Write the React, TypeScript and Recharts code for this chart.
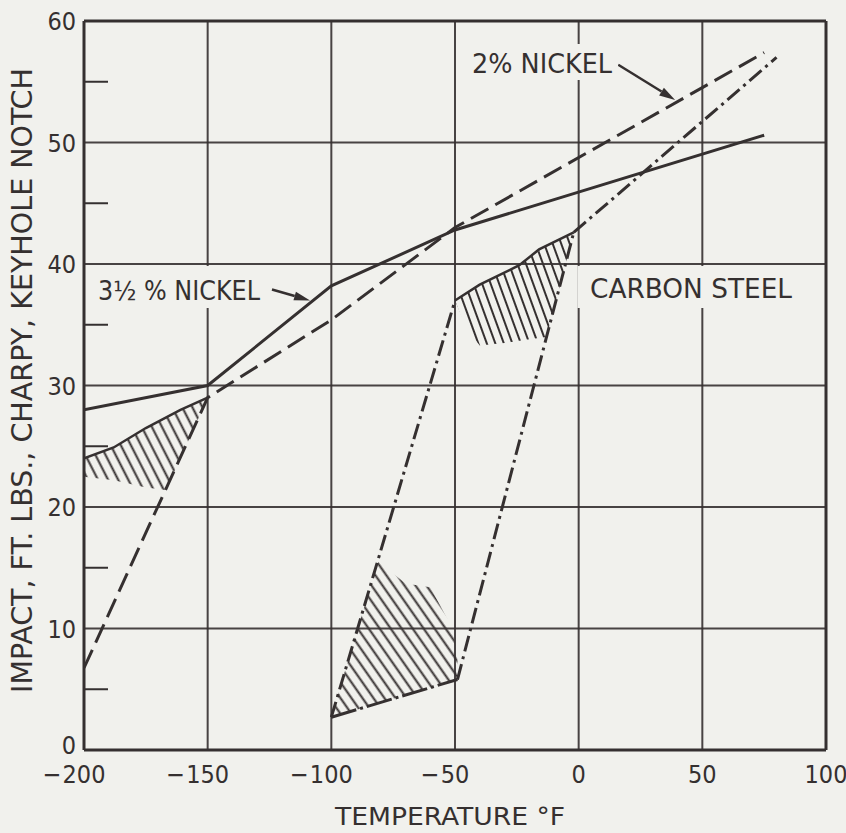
import React from "react";
import {
  ComposedChart,
  Line,
  Area,
  XAxis,
  YAxis,
  CartesianGrid,
  ReferenceLine,
} from "recharts";

// temperature (°F) / impact (ft-lb) pairs
const nickel35 = [
  { x: -200, y: 28 },
  { x: -150, y: 30 },
  { x: -100, y: 38.2 },
  { x: -50, y: 42.8 },
  { x: 75, y: 50.6 },
];

const nickel2 = [
  { x: -200, y: 6.75 },
  { x: -150, y: 29 },
  { x: -100, y: 35.4 },
  { x: -50, y: 43 },
  { x: 75, y: 57.4 },
];

const carbonLeft = [
  { x: -100, y: 2.7 },
  { x: -50, y: 37 },
];
const carbonBottom = [
  { x: -100, y: 2.7 },
  { x: -49, y: 5.8 },
];
const carbonRight = [
  { x: -49, y: 5.8 },
  { x: -2, y: 42.6 },
];
const carbonUpper = [
  { x: -2, y: 42.6 },
  { x: 80, y: 57 },
];
const carbonTop = [
  { x: -50, y: 37 },
  { x: -40, y: 38.3 },
  { x: -24, y: 39.9 },
  { x: -16, y: 41.2 },
  { x: -2, y: 42.6 },
];

const nickelBandTop = [
  { x: -200, y: 24 },
  { x: -188, y: 24.9 },
  { x: -175, y: 26.5 },
  { x: -161, y: 28 },
  { x: -150, y: 29 },
];

// hatched scatter bands: [low, high]
const hatchLeft = [
  { x: -200, r: [22.5, 24] },
  { x: -188, r: [22.2, 24.9] },
  { x: -175, r: [21.6, 26.5] },
  { x: -167, r: [21.4, 27.3] },
  { x: -161, r: [24, 28] },
  { x: -150, r: [29, 29] },
];
const hatchMid = [
  { x: -100, r: [2.7, 2.7] },
  { x: -90, r: [3.3, 9.6] },
  { x: -81, r: [3.85, 15.5] },
  { x: -70, r: [4.5, 13.7] },
  { x: -60, r: [5.1, 13.4] },
  { x: -51, r: [5.7, 10] },
  { x: -49, r: [5.8, 7.5] },
];
const hatchTop = [
  { x: -50, r: [37, 37] },
  { x: -45, r: [34.6, 37.7] },
  { x: -40, r: [33.3, 38.3] },
  { x: -30, r: [33.5, 39.3] },
  { x: -20, r: [33.8, 40.5] },
  { x: -13, r: [34, 41.5] },
  { x: -8, r: [37.9, 42] },
  { x: -2, r: [42.6, 42.6] },
];

const xTicks = [-200, -150, -100, -50, 0, 50, 100];
const yTicks = [0, 10, 20, 30, 40, 50, 60];
const yMinor = [5, 15, 25, 35, 45, 55];

const arrow35 = [
  { x: -124, y: 37.9 },
  { x: -108.6, y: 37.0 },
];
const arrow2 = [
  { x: 16, y: 56.4 },
  { x: 39, y: 53.5 },
];

const INK = "#353030";
const BG = "#f1f1ed";
const FONT = "'DejaVu Sans Condensed', 'DejaVu Sans', sans-serif";

const XTick = (props: any) => {
  const { x, y, payload } = props;
  const v = payload.value;
  const digits = String(Math.abs(v));
  const half = digits.length * 7.15;
  return (
    <g>
      <text x={x} y={y + 33} textAnchor="middle" fill={INK} fontSize={25} fontFamily={FONT}>
        {digits}
      </text>
      {v < 0 && (
        <text x={x - half - 1} y={y + 33} textAnchor="end" fill={INK} fontSize={25} fontFamily={FONT}>
          −
        </text>
      )}
    </g>
  );
};

const YTick = (props: any) => {
  const { x, y, payload } = props;
  const lift = payload.value === 0 ? 5 : 0;
  return (
    <text x={x} y={y + 9 - lift} textAnchor="end" fill={INK} fontSize={25} fontFamily={FONT}>
      {payload.value}
    </text>
  );
};

const Arrow = (props: any) => {
  const { x1, y1, x2, y2 } = props;
  const a = Math.atan2(y2 - y1, x2 - x1);
  const len = 16;
  const w = 4.5;
  const bx = x2 - len * Math.cos(a);
  const by = y2 - len * Math.sin(a);
  const px = -Math.sin(a) * w;
  const py = Math.cos(a) * w;
  return (
    <g>
      <line x1={x1} y1={y1} x2={bx} y2={by} stroke={INK} strokeWidth={2.5} />
      <polygon points={`${x2},${y2} ${bx + px},${by + py} ${bx - px},${by - py}`} fill={INK} />
    </g>
  );
};

const lineCommon = {
  dataKey: "y",
  dot: false,
  activeDot: false,
  isAnimationActive: false,
  stroke: INK,
  strokeWidth: 3,
  type: "linear" as const,
};

const DASH = "20 8";
const DASHDOT = "16 5 3 5";

export default function App() {
  return (
    <div style={{ position: "absolute", left: 0, top: 0, width: 846, height: 833, background: BG }}>
      <ComposedChart width={846} height={833} margin={{ top: 21, right: 20, bottom: 43, left: 24 }}>
        <defs>
          <pattern id="hatchL" width="9" height="9" patternUnits="userSpaceOnUse" patternTransform="rotate(-27)">
            <line x1="4.5" y1="0" x2="4.5" y2="9" stroke={INK} strokeWidth="2" />
          </pattern>
          <pattern id="hatchM" width="9" height="9" patternUnits="userSpaceOnUse" patternTransform="rotate(-35)">
            <line x1="4.5" y1="0" x2="4.5" y2="9" stroke={INK} strokeWidth="2" />
          </pattern>
          <pattern id="hatchT" width="8" height="8" patternUnits="userSpaceOnUse" patternTransform="rotate(-20)">
            <line x1="4" y1="0" x2="4" y2="8" stroke={INK} strokeWidth="2" />
          </pattern>
        </defs>
        <CartesianGrid stroke={INK} strokeWidth={2} strokeOpacity={0.9} />
        <XAxis
          type="number"
          dataKey="x"
          domain={[-200, 100]}
          ticks={xTicks}
          allowDataOverflow
          height={40}
          tickSize={0}
          tickMargin={0}
          tick={<XTick />}
          axisLine={{ stroke: INK, strokeWidth: 3 }}
        />
        <YAxis
          type="number"
          domain={[0, 60]}
          ticks={yTicks}
          allowDataOverflow
          width={60}
          tickSize={0}
          tickMargin={8}
          tick={<YTick />}
          axisLine={{ stroke: INK, strokeWidth: 3 }}
        />
        <ReferenceLine x={100} stroke={INK} strokeWidth={3} />
        <ReferenceLine y={60} stroke={INK} strokeWidth={3} />
        {yMinor.map((v) => (
          <ReferenceLine
            key={v}
            segment={[
              { x: -200, y: v },
              { x: -190.3, y: v },
            ]}
            stroke={INK}
            strokeWidth={2}
          />
        ))}

        <Area data={hatchLeft} dataKey="r" type="linear" stroke="none" fill="url(#hatchL)" fillOpacity={1} isAnimationActive={false} dot={false} activeDot={false} />
        <Area data={hatchMid} dataKey="r" type="linear" stroke="none" fill="url(#hatchM)" fillOpacity={1} isAnimationActive={false} dot={false} activeDot={false} />
        <Area data={hatchTop} dataKey="r" type="linear" stroke="none" fill="url(#hatchT)" fillOpacity={1} isAnimationActive={false} dot={false} activeDot={false} />

        <Line {...lineCommon} data={nickel35} />
        <Line {...lineCommon} data={nickel2} strokeDasharray={DASH} />
        <Line {...lineCommon} data={nickelBandTop} strokeWidth={2.5} />
        <Line {...lineCommon} data={carbonLeft} strokeDasharray={DASHDOT} />
        <Line {...lineCommon} data={carbonBottom} strokeDasharray="26 4 3 4" />
        <Line {...lineCommon} data={carbonRight} strokeDasharray={DASHDOT} />
        <Line {...lineCommon} data={carbonUpper} strokeDasharray={DASHDOT} />
        <Line {...lineCommon} data={carbonTop} strokeWidth={2.5} />

        <ReferenceLine segment={arrow35} shape={(p: any) => <Arrow {...p} />} />
        <ReferenceLine segment={arrow2} shape={(p: any) => <Arrow {...p} />} />
      </ComposedChart>

      <svg width={846} height={833} style={{ position: "absolute", left: 0, top: 0, pointerEvents: "none" }}>
        <rect x={92} y={266} width={176} height={42} fill={BG} />
        <rect x={577.5} y={266} width={222} height={42} fill={BG} />
        <rect x={466} y={44} width={152} height={36} fill={BG} />
        <g fill={INK} fontFamily={FONT}>
          <text x={98} y={300} fontSize={27} textLength={162} lengthAdjust="spacingAndGlyphs">
            3½ % NICKEL
          </text>
          <text x={590} y={298} fontSize={27} textLength={202} lengthAdjust="spacingAndGlyphs">
            CARBON STEEL
          </text>
          <text x={472} y={73} fontSize={27} textLength={140} lengthAdjust="spacingAndGlyphs">
            2% NICKEL
          </text>
          <text x={335} y={825} fontSize={24} textLength={230} lengthAdjust="spacingAndGlyphs">
            TEMPERATURE °F
          </text>
          <text
            transform="translate(32,693) rotate(-90)"
            x={0}
            y={0}
            fontSize={29}
            textLength={625}
            lengthAdjust="spacingAndGlyphs"
          >
            IMPACT, FT. LBS., CHARPY, KEYHOLE NOTCH
          </text>
        </g>
      </svg>
    </div>
  );
}
